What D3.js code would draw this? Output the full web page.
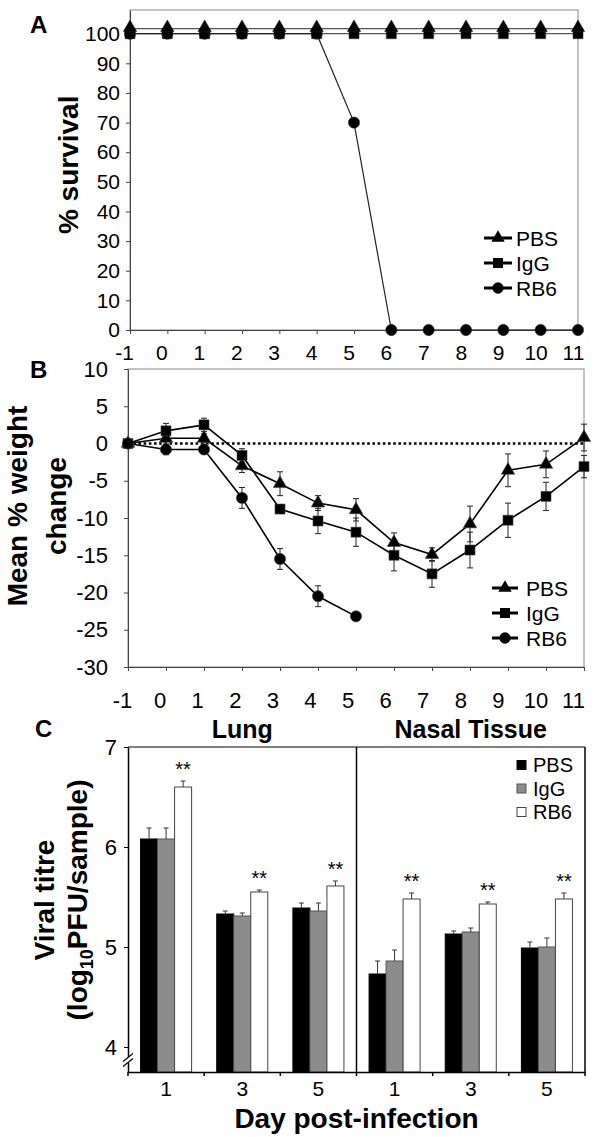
<!DOCTYPE html>
<html><head><meta charset="utf-8">
<script src="https://cdn.jsdelivr.net/npm/d3@7"></script>
<style>
body{margin:0;background:#fff}
svg{display:block}
</style>
</head><body>
<svg id="c" width="600" height="1137"></svg>
<script>
// ---------- DATA ----------
const days = [-1,0,1,2,3,4,5,6,7,8,9,10,11];
const survTicks = [0,10,20,30,40,50,60,70,80,90,100];
const survPBS = [101.7,101.7,101.7,101.7,101.7,101.7,101.7,101.7,101.7,101.7,101.7,101.7,101.7];
const survIgG = [100,100,100,100,100,100,100,100,100,100,100,100,100];
const survRB6 = [100,100,100,100,100,100,70,0,0,0,0,0,0];

const weightTicks = [-30,-25,-20,-15,-10,-5,0,5,10];
const wPBS    = [0, 0.7, 0.7, -3.0, -5.4, -8.0, -8.9, -13.3, -14.9, -10.8, -3.6, -2.8, 0.8];
const wPBSerr = [0, 0.8, 0.6, 0.9, 1.6, 1.0, 1.5, 1.3, 0.9, 2.4, 2.2, 1.8, 1.8];
const wIgG    = [0, 1.7, 2.5, -1.6, -8.8, -10.4, -11.9, -15.0, -17.5, -14.3, -10.3, -7.1, -3.1];
const wIgGerr = [0, 1.0, 0.9, 0.9, 0.3, 1.7, 1.9, 2.1, 1.8, 2.4, 2.3, 1.9, 1.5];
const daysRB6 = [-1,0,1,2,3,4,5];
const wRB6    = [0, -0.8, -0.8, -7.3, -15.5, -20.5, -23.2];
const wRB6err = [0, 0.7, 0.4, 1.4, 1.4, 1.4, 0.5];

const tissues = ["Lung","Nasal Tissue"];
const titreDays = ["1","3","5","1","3","5"];
const titreTicks = [4,5,6,7];
const groups = ["PBS","IgG","RB6"];
const titrePBS    = [6.08, 5.33, 5.39, 4.73, 5.13, 4.99];
const titrePBSerr = [0.11, 0.03, 0.05, 0.13, 0.03, 0.06];
const titreIgG    = [6.08, 5.31, 5.36, 4.86, 5.15, 5.00];
const titreIgGerr = [0.11, 0.03, 0.08, 0.11, 0.04, 0.09];
const titreRB6    = [6.60, 5.55, 5.61, 5.48, 5.43, 5.48];
const titreRB6err = [0.06, 0.02, 0.05, 0.06, 0.02, 0.06];
const signif      = ["**","**","**","**","**","**"];

// ---------- HELPERS ----------
const FONT = '"Liberation Sans", Arial, Helvetica, sans-serif';
const svg = d3.select("#c");
function styleAxis(g, size, color){
  g.attr("font-family", FONT).attr("font-size", size);
  g.selectAll("text").attr("fill","#000");
  g.selectAll("line,path").attr("stroke", color);
}
const sym = {
  PBS: d3.symbol().type(d3.symbolTriangle).size(78),
  IgG: d3.symbol().type(d3.symbolSquare).size(100),
  RB6: d3.symbol().type(d3.symbolCircle).size(100)
};
const fmt = d => String(d);

// ---------- PANEL A ----------
const xA = d3.scaleLinear().domain([-1,11]).range([130,578]);
const xALab = d3.scaleLinear().domain([-1,11]).range([124,573]);
const yA = d3.scaleLinear().domain([0,108]).range([330,10]);
const gA = svg.append("g");
gA.append("rect").attr("x",xA(-1)).attr("y",yA(108)).attr("width",xA(11)-xA(-1))
  .attr("height",yA(0)-yA(108)).attr("fill","none").attr("stroke","#888").attr("stroke-width",1);
const aY = gA.append("g").attr("transform",`translate(${xA(-1)},0)`)
  .call(d3.axisLeft(yA).tickValues(survTicks).tickSize(4).tickSizeOuter(0).tickPadding(6).tickFormat(fmt));
styleAxis(aY, 21, "#444");
const aX = gA.append("g").attr("transform",`translate(0,${yA(0)})`)
  .call(d3.axisBottom(xA).tickValues(days).tickSize(4).tickSizeOuter(0).tickPadding(11).tickFormat(fmt));
styleAxis(aX, 21, "#444");
aX.selectAll(".tick text").attr("x", d => xALab(d) - xA(d));

const lineA = d3.line().x(d => xA(d[0])).y(d => yA(d[1]));
const zip = (xs, ys) => ys.map((v,i)=>[xs[i], v]);
const sA = [
  {name:"IgG", data: zip(days, survIgG), color:"#555"},
  {name:"PBS", data: zip(days, survPBS), color:"#555"},
  {name:"RB6", data: zip(days, survRB6), color:"#222"}
];
sA.forEach(s => gA.append("path").attr("d", lineA(s.data)).attr("fill","none")
  .attr("stroke", s.color).attr("stroke-width",1.2));
["RB6","IgG","PBS"].forEach(n => {
  const s = sA.find(t => t.name===n);
  gA.selectAll(null).data(s.data).join("path")
    .attr("transform", d => `translate(${xA(d[0])},${yA(d[1]) + (n==="PBS"?-1:0)})`)
    .attr("d", sym[n]()).attr("fill","#000").attr("stroke","#222").attr("stroke-width",0.5);
});
gA.append("text").attr("transform",`translate(78,${(yA(0)+yA(100))/2 - 17}) rotate(-90)`)
  .attr("text-anchor","middle").attr("font-family",FONT).attr("font-weight","bold")
  .attr("font-size",28).text("% survival");
gA.append("text").attr("x",30).attr("y",33).attr("font-family",FONT).attr("font-weight","bold")
  .attr("font-size",24).text("A");
// legend A
const legA = gA.append("g").attr("font-family",FONT).attr("font-size",21);
groups.forEach((n,i) => {
  const cy = 238 + i*25;
  legA.append("line").attr("x1",484).attr("x2",512).attr("y1",cy).attr("y2",cy)
    .attr("stroke","#000").attr("stroke-width",3);
  legA.append("path").attr("transform",`translate(498,${cy})`).attr("d", sym[n]()).attr("fill","#000");
  legA.append("text").attr("x",516).attr("y",cy).attr("dy","0.36em").text(n);
});

// ---------- PANEL B ----------
const xB = d3.scaleLinear().domain([-1,11]).range([128,584]);
const xBLab = d3.scaleLinear().domain([-1,11]).range([122,573]);
const yB = d3.scaleLinear().domain([-30,10]).range([667,369]);
const gB = svg.append("g");
gB.append("rect").attr("x",xB(-1)).attr("y",yB(10)).attr("width",xB(11)-xB(-1))
  .attr("height",yB(-30)-yB(10)).attr("fill","none").attr("stroke","#888").attr("stroke-width",1);
const bY = gB.append("g").attr("transform",`translate(${xB(-1)},0)`)
  .call(d3.axisLeft(yB).tickValues(weightTicks).tickSize(4).tickSizeOuter(0).tickPadding(16).tickFormat(fmt));
styleAxis(bY, 22, "#444");
const bX = gB.append("g").attr("transform",`translate(0,${yB(-30)})`)
  .call(d3.axisBottom(xB).tickValues(days).tickSize(4).tickSizeOuter(0).tickPadding(21).tickFormat(fmt));
styleAxis(bX, 22, "#444");
bX.selectAll(".tick text").attr("x", d => xBLab(d) - xB(d));
gB.append("line").attr("x1",xB(-1)).attr("x2",xB(11)).attr("y1",yB(0)).attr("y2",yB(0))
  .attr("stroke","#000").attr("stroke-width",2.5).attr("stroke-dasharray","2.6,2.6");

const sB = [
  {name:"PBS", x: days, v: wPBS, e: wPBSerr},
  {name:"IgG", x: days, v: wIgG, e: wIgGerr},
  {name:"RB6", x: daysRB6, v: wRB6, e: wRB6err}
];
const lineB = d3.line().x(d => xB(d.x)).y(d => yB(d.v));
sB.forEach(s => {
  s.pts = s.v.map((v,i)=>({x:s.x[i], v, e:s.e[i]}));
  gB.append("path").attr("d", lineB(s.pts)).attr("fill","none").attr("stroke","#000").attr("stroke-width",1.6);
});
sB.forEach(s => {
  const eg = gB.append("g").attr("stroke","#222").attr("stroke-width",1);
  s.pts.filter(p=>p.e>0).forEach(p => {
    const cx = xB(p.x);
    eg.append("line").attr("x1",cx).attr("x2",cx).attr("y1",yB(p.v+p.e)).attr("y2",yB(p.v-p.e));
    eg.append("line").attr("x1",cx-3).attr("x2",cx+3).attr("y1",yB(p.v+p.e)).attr("y2",yB(p.v+p.e));
    eg.append("line").attr("x1",cx-3).attr("x2",cx+3).attr("y1",yB(p.v-p.e)).attr("y2",yB(p.v-p.e));
  });
});
sB.forEach(s => {
  gB.selectAll(null).data(s.pts).join("path")
    .attr("transform", d => `translate(${xB(d.x)},${yB(d.v)})`)
    .attr("d", sym[s.name]()).attr("fill","#000").attr("stroke","#444").attr("stroke-width",0.6);
});
const tB = gB.append("text").attr("font-family",FONT).attr("font-weight","bold").attr("font-size",28)
  .attr("text-anchor","middle");
tB.append("tspan").attr("x",0).attr("y",0).text("Mean % weight");
tB.append("tspan").attr("x",0).attr("dy",39).text("change");
tB.attr("transform",`translate(27,506) rotate(-90)`);
gB.append("text").attr("x",30).attr("y",378).attr("font-family",FONT).attr("font-weight","bold")
  .attr("font-size",24).text("B");
const legB = gB.append("g").attr("font-family",FONT).attr("font-size",21);
groups.forEach((n,i) => {
  const cy = 588 + i*25;
  legB.append("line").attr("x1",492).attr("x2",518).attr("y1",cy).attr("y2",cy)
    .attr("stroke","#000").attr("stroke-width",3);
  legB.append("path").attr("transform",`translate(505,${cy})`).attr("d", sym[n]()).attr("fill","#000");
  legB.append("text").attr("x",526).attr("y",cy).attr("dy","0.36em").text(n);
});

// ---------- PANEL C ----------
const xC = d3.scaleBand().domain(d3.range(titreDays.length)).range([128,585]);
const bw = xC.bandwidth();
const xSub = d3.scaleBand().domain(groups).range([bw*0.165, bw*0.835]);
const yC = d3.scaleLinear().domain([3.75,7]).range([1072,747]);
const gC = svg.append("g");
const titre = {PBS:[titrePBS,titrePBSerr], IgG:[titreIgG,titreIgGerr], RB6:[titreRB6,titreRB6err]};
const fills = {PBS:"#000", IgG:"#8c8c8c", RB6:"#fff"};
const strokes = {PBS:"#000", IgG:"#555", RB6:"#444"};

// frame
const x0 = xC.range()[0], x1 = xC.range()[1];
gC.append("line").attr("x1",x0).attr("x2",x1).attr("y1",yC(7)).attr("y2",yC(7)).attr("stroke","#000");
gC.append("line").attr("x1",x1).attr("x2",x1).attr("y1",yC(7)).attr("y2",yC(3.75)).attr("stroke","#000").attr("stroke-width",1.5);
gC.append("line").attr("x1",xC(3)).attr("x2",xC(3)).attr("y1",yC(7)).attr("y2",yC(3.75)).attr("stroke","#000").attr("stroke-width",1.5);

groups.forEach(g => {
  const [vals, errs] = titre[g];
  vals.forEach((v,i) => {
    const bx = xC(i) + xSub(g), w = xSub.bandwidth();
    gC.append("rect").attr("x",bx).attr("y",yC(v)).attr("width",w).attr("height",yC(3.75)-yC(v))
      .attr("fill",fills[g]).attr("stroke",strokes[g]).attr("stroke-width",1);
    const cx = bx + w/2, ty = yC(v+errs[i]);
    gC.append("line").attr("x1",cx).attr("x2",cx).attr("y1",yC(v)).attr("y2",ty).attr("stroke","#333").attr("stroke-width",1);
    gC.append("line").attr("x1",cx-2.5).attr("x2",cx+2.5).attr("y1",ty).attr("y2",ty).attr("stroke","#333").attr("stroke-width",1);
    if (g==="RB6") {
      gC.append("text").attr("x",cx).attr("y",ty-5).attr("text-anchor","middle")
        .attr("font-family",FONT).attr("font-size",20).text(signif[i]);
    }
  });
});
const cY = gC.append("g").attr("transform",`translate(${x0},0)`)
  .call(d3.axisLeft(yC).tickValues(titreTicks).tickSize(4).tickSizeOuter(0).tickPadding(7).tickFormat(fmt));
styleAxis(cY, 22, "#000");
cY.select(".domain").attr("stroke-width",1.5);
const cX = gC.append("g").attr("transform",`translate(0,${yC(3.75)})`)
  .call(d3.axisBottom(xC).tickSize(0).tickSizeOuter(0).tickPadding(9).tickFormat(i => titreDays[i]));
styleAxis(cX, 21, "#000");
cX.select(".domain").attr("stroke-width",1.5);
d3.range(titreDays.length+1).forEach(k => {
  const tx = x0 + k*xC.step();
  gC.append("line").attr("x1",tx).attr("x2",tx).attr("y1",yC(3.75)).attr("y2",yC(3.75)+4).attr("stroke","#000").attr("stroke-width",1.5);
});
// axis break
const yb = yC(3.87);
gC.append("rect").attr("x",x0-2).attr("y",yb-3).attr("width",4).attr("height",6).attr("fill","#fff");
[-2.5,2.5].forEach(o => gC.append("line").attr("x1",x0-5).attr("x2",x0+5).attr("y1",yb+o+4).attr("y2",yb+o-4)
  .attr("stroke","#000").attr("stroke-width",1.2));

// tissue headings
[0,1].forEach(t => {
  gC.append("text").attr("x",(xC(t*3) + xC(t*3+2) + bw)/2).attr("y",738).attr("text-anchor","middle")
    .attr("font-family",FONT).attr("font-weight","bold").attr("font-size",25).text(tissues[t]);
});
gC.append("text").attr("x",35).attr("y",737).attr("font-family",FONT).attr("font-weight","bold")
  .attr("font-size",24).text("C");
// y title
gC.append("text").attr("transform",`translate(54,900) rotate(-90)`).attr("text-anchor","middle")
  .attr("font-family",FONT).attr("font-weight","bold").attr("font-size",28).text("Viral titre");
const tC2 = gC.append("text").attr("transform",`translate(87,900) rotate(-90)`).attr("text-anchor","middle")
  .attr("font-family",FONT).attr("font-weight","bold").attr("font-size",28);
tC2.append("tspan").text("(log");
tC2.append("tspan").attr("font-size",18).attr("dy",6).text("10");
tC2.append("tspan").attr("dy",-6).text("PFU/sample)");
gC.append("text").attr("x",(x0+x1)/2).attr("y",1128).attr("text-anchor","middle")
  .attr("font-family",FONT).attr("font-weight","bold").attr("font-size",28).text("Day post-infection");
// legend C
const legC = gC.append("g").attr("font-family",FONT).attr("font-size",20);
groups.forEach((n,i) => {
  const cy = 765 + i*23.5;
  legC.append("rect").attr("x",517).attr("y",cy-4.5).attr("width",9).attr("height",9)
    .attr("fill",fills[n]).attr("stroke",strokes[n]).attr("stroke-width",1);
  legC.append("text").attr("x",533).attr("y",cy).attr("dy","0.36em").text(n);
});
</script>
</body></html>
